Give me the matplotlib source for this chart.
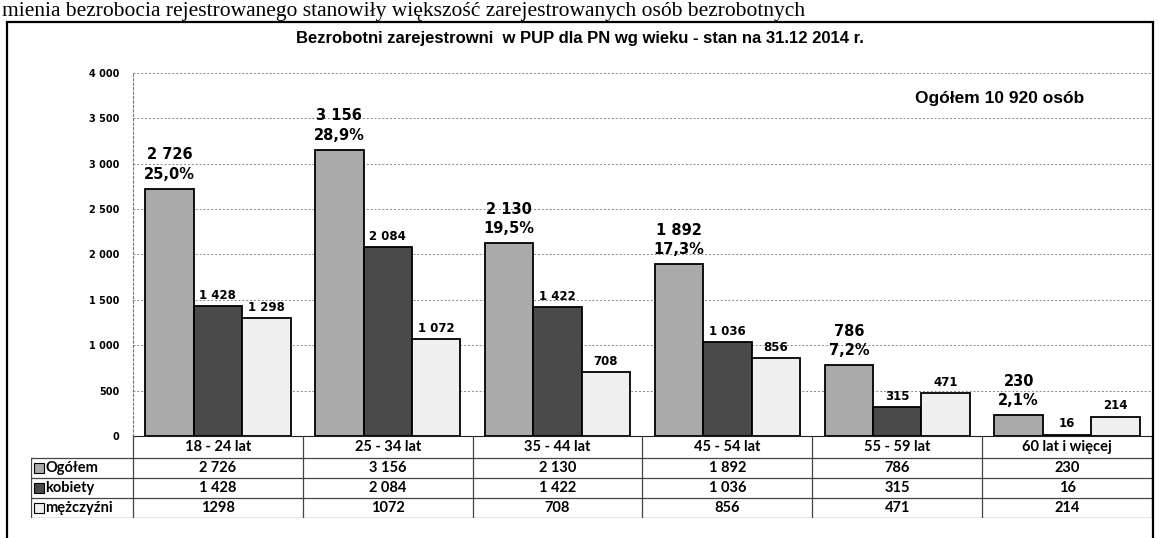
import matplotlib.pyplot as plt
from matplotlib.patches import Rectangle

grupy = ["18 - 24 lat", "25 - 34 lat", "35 - 44 lat", "45 - 54 lat", "55 - 59 lat", "60 lat i więcej"]
ogolem = [2726, 3156, 2130, 1892, 786, 230]
kobiety = [1428, 2084, 1422, 1036, 315, 16]
mezczyzni = [1298, 1072, 708, 856, 471, 214]
razem = 10920
serie = ["Ogółem", "kobiety", "mężczyźni"]
kolory = ["#aaaaaa", "#4a4a4a", "#efefef"]

W, H = 1159, 538


def tys(v):
    return f"{v:,}".replace(",", " ")


fig = plt.figure(figsize=(W / 100, H / 100), dpi=100, facecolor="w")

# kawalek tekstu ze skanu nad wykresem
fig.text(0.002, 1 - 16 / H, "mienia bezrobocia rejestrowanego stanowiły większość zarejestrowanych osób bezrobotnych",
         family="Liberation Serif", fontsize=15.5, va="baseline", ha="left")

fig.add_artist(Rectangle((7 / W, -0.01), (1153 - 7) / W, (538 - 22) / H + 0.01,
                         transform=fig.transFigure, fill=False, lw=1.6, ec="black"))

fig.text(580 / W, 1 - 38 / H, "Bezrobotni zarejestrowni  w PUP dla PN wg wieku - stan na 31.12 2014 r.",
         family="Liberation Sans", weight="bold", fontsize=12, ha="center", va="center")

ax = fig.add_axes([133 / W, (H - 436) / H, (1152 - 133) / W, (436 - 73) / H])
x = range(len(grupy))
bw = 0.285
dane = [ogolem, kobiety, mezczyzni]
for i, (vals, kol) in enumerate(zip(dane, kolory)):
    pos = [xi + (i - 1) * bw for xi in x]
    ax.bar(pos, vals, width=bw, color=kol, edgecolor="black", lw=1.3, zorder=3)
    for p, v in zip(pos, vals):
        if i == 0:
            proc = f"{v / razem * 100:.1f}%".replace(".", ",")
            ax.annotate(tys(v) + "\n" + proc, (p, v), xytext=(0, 5), textcoords="offset points",
                        ha="center", va="bottom", fontsize=10.5, weight="bold", linespacing=1.35)
        else:
            ax.annotate(tys(v), (p, v), xytext=(0, 3), textcoords="offset points",
                        ha="center", va="bottom", fontsize=8.5, weight="bold")

ax.set_xlim(-0.5, len(grupy) - 0.5)
ax.set_ylim(0, 4000)
ax.set_yticks(range(0, 4001, 500))
ax.set_yticklabels([tys(t) for t in range(0, 4001, 500)], fontsize=7, weight="bold")
ax.tick_params(axis="y", length=0, pad=10)
ax.set_xticks([])
ax.grid(axis="y", color="#888888", ls=(0, (2, 2)), lw=0.7, zorder=0)
ax.spines["top"].set_visible(False)
ax.spines["right"].set_visible(False)
ax.spines["left"].set_color("#777777")
ax.spines["left"].set_linestyle((0, (2, 2)))
ax.spines["bottom"].set_color("#222222")

ax.text(0.85, 0.93, f"Ogółem {tys(razem)} osób", transform=ax.transAxes, ha="center", va="center",
        family="Liberation Sans", weight="bold", fontsize=12.5)

# tabela danych pod wykresem
tb = fig.add_axes([31 / W, (H - 518) / H, (1152 - 31) / W, (518 - 436) / H])
lewo = -0.5 - 102 / 170
tb.set_xlim(lewo, len(grupy) - 0.5)
tb.set_ylim(82, 0)
tb.axis("off")
lc = "#444444"
for k in range(len(grupy) + 1):
    tb.plot([k - 0.5, k - 0.5], [0, 82], color=lc, lw=0.9)
tb.plot([lewo, lewo], [22, 82], color=lc, lw=0.9)
for yy in [22, 42, 62, 82]:
    tb.plot([lewo, len(grupy) - 0.5], [yy, yy], color=lc, lw=0.9)

for k, g in enumerate(grupy):
    tb.text(k, 11, g, ha="center", va="center", family="Lato", weight="bold", fontsize=10.5)
wiersze = [[tys(v) for v in ogolem], [tys(v) for v in kobiety], [str(v) for v in mezczyzni]]
for r, (nazwa, kol, wiersz) in enumerate(zip(serie, kolory, wiersze)):
    yy = 32 + r * 20
    tb.plot([lewo + 0.045], [yy], marker="s", ms=7, mfc=kol, mec="black", mew=0.8)
    tb.text(lewo + 0.085, yy, nazwa, ha="left", va="center", family="Lato", weight="bold", fontsize=10.5)
    for k, s in enumerate(wiersz):
        tb.text(k, yy, s, ha="center", va="center", family="Lato", weight="bold", fontsize=10.5)

fig.savefig("out.png", dpi=100)
